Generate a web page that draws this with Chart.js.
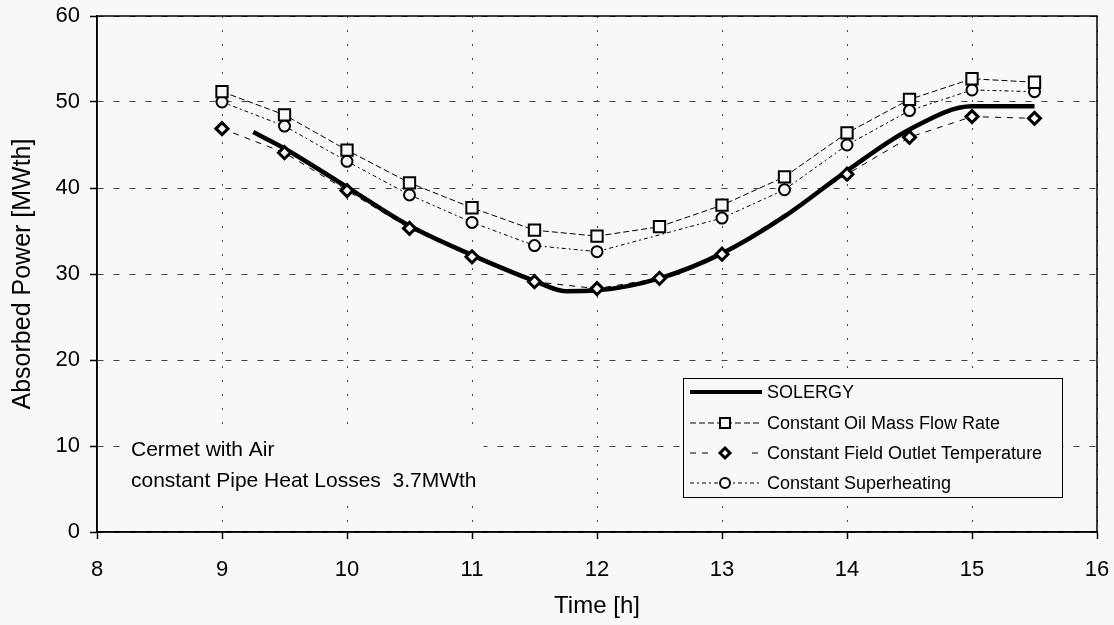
<!DOCTYPE html>
<html>
<head>
<meta charset="utf-8">
<script src="https://cdn.jsdelivr.net/npm/chart.js@4.4.0/dist/chart.umd.min.js"></script>
<style>
  html, body { margin: 0; padding: 0; background: #f8f8f8; }
  #wrap { width: 1114px; height: 625px; }
</style>
</head>
<body>
<div id="wrap"><canvas id="absorbed" width="1114" height="625"></canvas></div>
<script>
// valores
const hours = [9, 9.5, 10, 10.5, 11, 11.5, 12, 12.5, 13, 13.5, 14, 14.5, 15, 15.5];
const oilMassFlow = [51.2, 48.5, 44.4, 40.6, 37.7, 35.1, 34.4, 35.5, 38.0, 41.3, 46.4, 50.3, 52.7, 52.3];
const fieldOutletTemp = [46.9, 44.1, 39.7, 35.3, 32.0, 29.1, 28.3, 29.5, 32.3, null, 41.6, 45.9, 48.3, 48.1];
const superheating = [50.0, 47.2, 43.1, 39.2, 36.0, 33.3, 32.6, null, 36.5, 39.8, 45.0, 49.0, 51.4, 51.2];

const solergyHours = [9.25, 9.5, 10, 10.5, 11, 11.5, 11.75, 12, 12.5, 13, 13.5, 14, 14.5, 15, 15.5];
const solergy = [46.5, 44.6, 40.1, 35.6, 32.2, 29.2, 28.0, 28.1, 29.5, 32.4, 36.7, 42.0, 46.8, 49.5, 49.5];

const xTicks = [8, 9, 10, 11, 12, 13, 14, 15, 16];
const yTicks = [0, 10, 20, 30, 40, 50, 60];

const seriesNames = ['SOLERGY', 'Constant Oil Mass Flow Rate', 'Constant Field Outlet Temperature', 'Constant Superheating'];
const noteLines = ['Cermet with Air', 'constant Pipe Heat Losses  3.7MWth'];

const BG = '#f8f8f8';
const FONT = "'Liberation Sans', Arial, sans-serif";

const toPoints = (xs, ys) => xs.map((x, i) => ({ x: x, y: ys[i] }));

// fondo detras del texto (tapa la cuadricula)
const noteBg = {
  id: 'noteBg',
  beforeDatasetsDraw(chart) {
    const ctx = chart.ctx;
    ctx.save();
    ctx.font = '21px ' + FONT;
    ctx.fillStyle = BG;
    ctx.fillRect(124, 436, ctx.measureText(noteLines[1]).width + 14, 60);
    ctx.restore();
  }
};

// marco, texto y leyenda dibujados a mano
const extras = {
  id: 'extras',
  afterDraw(chart) {
    const ctx = chart.ctx;
    const a = chart.chartArea;
    ctx.save();
    ctx.strokeStyle = '#000';
    ctx.lineWidth = 1.5;
    ctx.strokeRect(a.left, a.top, a.right - a.left, a.bottom - a.top);

    ctx.fillStyle = '#000';
    ctx.font = '21px ' + FONT;
    ctx.textBaseline = 'middle';
    ctx.fillText(noteLines[0], 131, 450);
    ctx.fillText(noteLines[1], 131, 481);

    // leyenda
    const bx = 683, by = 378, bw = 379, bh = 119;
    ctx.fillStyle = BG;
    ctx.fillRect(bx, by, bw, bh);
    ctx.lineWidth = 1;
    ctx.strokeRect(bx + 0.5, by + 0.5, bw, bh);

    const rows = [392, 423, 453, 483];
    const x0 = 690, x1 = 762, mx = 725;
    ctx.font = '18px ' + FONT;
    ctx.fillStyle = '#000';

    // SOLERGY
    ctx.lineWidth = 4;
    ctx.beginPath(); ctx.moveTo(x0, rows[0]); ctx.lineTo(x1, rows[0]); ctx.stroke();

    // caudal constante
    ctx.lineWidth = 1;
    ctx.setLineDash([6, 3]);
    ctx.beginPath(); ctx.moveTo(x0, rows[1]); ctx.lineTo(x1, rows[1]); ctx.stroke();
    ctx.setLineDash([]);
    ctx.fillStyle = BG; ctx.lineWidth = 2;
    ctx.fillRect(mx - 5, rows[1] - 5, 10, 10); ctx.strokeRect(mx - 5, rows[1] - 5, 10, 10);

    // temperatura de salida
    ctx.lineWidth = 1;
    ctx.setLineDash([6, 6]);
    ctx.beginPath(); ctx.moveTo(x0, rows[2]); ctx.lineTo(708, rows[2]); ctx.stroke();
    ctx.beginPath(); ctx.moveTo(752, rows[2]); ctx.lineTo(x1, rows[2]); ctx.stroke();
    ctx.setLineDash([]);
    ctx.lineWidth = 3;
    ctx.beginPath();
    ctx.moveTo(mx, rows[2] - 5); ctx.lineTo(mx + 5, rows[2]); ctx.lineTo(mx, rows[2] + 5); ctx.lineTo(mx - 5, rows[2]);
    ctx.closePath(); ctx.fillStyle = BG; ctx.fill(); ctx.stroke();

    // sobrecalentamiento
    ctx.lineWidth = 1;
    ctx.setLineDash([4, 3, 2, 3]);
    ctx.beginPath(); ctx.moveTo(x0, rows[3]); ctx.lineTo(x1, rows[3]); ctx.stroke();
    ctx.setLineDash([]);
    ctx.lineWidth = 2;
    ctx.beginPath(); ctx.arc(mx, rows[3], 5, 0, Math.PI * 2); ctx.fillStyle = BG; ctx.fill(); ctx.stroke();

    ctx.fillStyle = '#000';
    seriesNames.forEach((n, i) => ctx.fillText(n, 767, rows[i] + 1));
    ctx.restore();
  }
};

const bgPlugin = {
  id: 'bg',
  beforeDraw(chart) {
    const ctx = chart.ctx;
    ctx.save();
    ctx.fillStyle = BG;
    ctx.fillRect(0, 0, chart.width, chart.height);
    ctx.restore();
  }
};

new Chart(document.getElementById('absorbed'), {
  type: 'line',
  data: {
    datasets: [
      {
        label: seriesNames[0],
        data: toPoints(solergyHours, solergy),
        borderColor: '#000',
        borderWidth: 4.5,
        pointRadius: 0,
        cubicInterpolationMode: 'monotone',
        order: 4
      },
      {
        label: seriesNames[1],
        data: toPoints(hours, oilMassFlow),
        borderColor: '#000',
        borderWidth: 1,
        borderDash: [6, 3],
        pointStyle: 'rect',
        pointRadius: 8,
        pointBorderWidth: 2,
        pointBackgroundColor: BG,
        pointBorderColor: '#000',
        spanGaps: true,
        order: 1
      },
      {
        label: seriesNames[2],
        data: toPoints(hours, fieldOutletTemp),
        borderColor: '#000',
        borderWidth: 1,
        borderDash: [6, 6],
        pointStyle: 'rectRot',
        pointRadius: 6,
        pointBorderWidth: 3,
        pointBackgroundColor: BG,
        pointBorderColor: '#000',
        spanGaps: true,
        order: 2
      },
      {
        label: seriesNames[3],
        data: toPoints(hours, superheating),
        borderColor: '#000',
        borderWidth: 1,
        borderDash: [4, 3, 2, 3],
        pointStyle: 'circle',
        pointRadius: 5.5,
        pointBorderWidth: 2,
        pointBackgroundColor: BG,
        pointBorderColor: '#000',
        spanGaps: true,
        order: 3
      }
    ]
  },
  options: {
    responsive: false,
    animation: false,
    layout: { padding: { left: 0, right: 17, top: 16, bottom: 0 } },
    plugins: { legend: { display: false }, tooltip: { enabled: false } },
    scales: {
      x: {
        type: 'linear',
        min: 8, max: 16,
        afterBuildTicks: s => { s.ticks = xTicks.map(v => ({ value: v })); },
        afterFit: s => { s.height = 93; s.paddingLeft = 0; s.paddingRight = 0; },
        grid: { color: '#444', lineWidth: 1, tickLength: 7, tickColor: '#000', tickWidth: 1.5 },
        border: { display: true, color: '#000', width: 1.5, dash: [2, 12] },
        ticks: { color: '#000', font: { family: FONT, size: 22 }, padding: 18, maxRotation: 0 },
        title: { display: true, text: 'Time [h]', color: '#000', font: { family: FONT, size: 24 }, padding: { top: 0, bottom: 4 } }
      },
      y: {
        min: 0, max: 60,
        afterBuildTicks: s => { s.ticks = yTicks.map(v => ({ value: v })); },
        afterFit: s => { s.width = 97; s.paddingTop = 0; s.paddingBottom = 0; },
        grid: { color: '#444', lineWidth: 1, tickLength: 7, tickColor: '#000', tickWidth: 1.5 },
        border: { display: true, color: '#000', width: 1.5, dash: [6, 10] },
        ticks: { color: '#000', font: { family: FONT, size: 22 }, padding: 10 },
        title: { display: true, text: 'Absorbed Power [MWth]', color: '#000', font: { family: FONT, size: 25 }, padding: { top: 8, bottom: 0 } }
      }
    }
  },
  plugins: [bgPlugin, noteBg, extras]
});
</script>
</body>
</html>
